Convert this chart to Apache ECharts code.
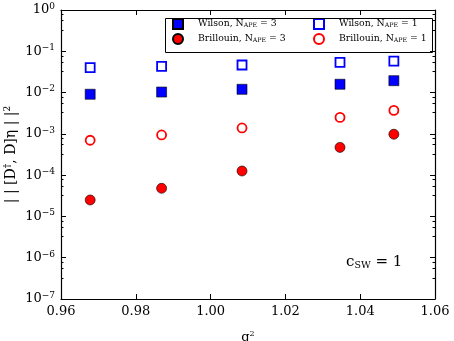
<!DOCTYPE html>
<html>
<head>
<meta charset="utf-8">
<script src="https://cdn.jsdelivr.net/npm/echarts@6/dist/echarts.min.js"></script>
<style>
  html, body { margin: 0; padding: 0; background: #fff; }
  #chart { width: 454px; height: 341px; }
</style>
</head>
<body>
<div id="chart"></div>
<script>
// g0^2 values (same for every series)
var g0sq = [0.9678, 0.9869, 1.0084, 1.0346, 1.049];
// ||[D+, D] eta||^2
var wilson3 = [0.0091, 0.0103, 0.0120, 0.0159, 0.0194];
var wilson1 = [0.040, 0.043, 0.0466, 0.054, 0.058];
var brill3 = [2.5e-5, 4.8e-5, 1.26e-4, 4.7e-4, 9.8e-4];
var brill1 = [7.0e-4, 9.4e-4, 1.39e-3, 2.5e-3, 3.7e-3];

var xTicks = [0.96, 0.98, 1.00, 1.02, 1.04, 1.06];

var FONT = 'DejaVu Serif';

function pairs(ys) {
  var out = [];
  for (var i = 0; i < ys.length; i++) out.push([g0sq[i], ys[i]]);
  return out;
}

var names = {
  w3: 'Wilson, N_APE = 3',
  w1: 'Wilson, N_APE = 1',
  b3: 'Brillouin, N_APE = 3',
  b1: 'Brillouin, N_APE = 1'
};

function legendText(name) {
  var parts = name.split('N_APE');
  return '{f|' + parts[0] + 'N}{s|APE}{t|' + parts[1] + '}';
}

var legendStyle = {
  fontFamily: FONT,
  color: '#000',
  lineHeight: 12,
  rich: {
    f: { fontFamily: FONT, fontSize: 9.3, color: '#000', lineHeight: 12, padding: [0, 0, 0, 10] },
    t: { fontFamily: FONT, fontSize: 9.3, color: '#000', lineHeight: 12 },
    s: { fontFamily: FONT, fontSize: 6.3, color: '#000', lineHeight: 12, padding: [3, 0, 0, 0] }
  }
};

var axisLineStyle = { color: '#000', width: 1.2 };

var chart = echarts.init(document.getElementById('chart'));
var option = {
  backgroundColor: '#fff',
  animation: false,
  grid: { left: 61, right: 19, top: 10, bottom: 42, outerBoundsMode: 'none', containLabel: false },
  legend: [
    {
      orient: 'vertical', left: 172, top: 18, padding: 0, itemGap: 3,
      itemWidth: 10, itemHeight: 10,
      data: [names.w3, names.b3],
      formatter: legendText, textStyle: legendStyle
    },
    {
      orient: 'vertical', left: 313, top: 18, padding: 0, itemGap: 3,
      itemWidth: 10, itemHeight: 10,
      data: [names.w1, names.b1],
      formatter: legendText, textStyle: legendStyle
    }
  ],
  graphic: [
    {
      type: 'rect', left: 163, top: 16, z: 10,
      shape: { width: 267, height: 34 },
      style: { fill: 'none', stroke: '#000', lineWidth: 1 }
    },
    {
      type: 'text', left: 346, top: 255, z: 10,
      style: {
        text: '{c|c}{s|SW}{c| = 1}',
        rich: {
          c: { fontFamily: FONT, fontSize: 15, fill: '#000' },
          s: { fontFamily: FONT, fontSize: 9.5, fill: '#000', padding: [6, 0, 0, 0] }
        }
      }
    }
  ],
  xAxis: [
    {
      type: 'value', min: 0.96, max: 1.06, interval: 0.02,
      position: 'bottom',
      axisLine: { lineStyle: axisLineStyle },
      axisTick: { inside: true, length: 5, lineStyle: { color: '#000' } },
      splitLine: { show: false },
      axisLabel: {
        margin: 6, fontFamily: FONT, fontSize: 13, color: '#000',
        formatter: function (v) { return v.toFixed(2); }
      },
      name: '{g|g}{p|2}', nameLocation: 'middle', nameGap: 28, nameMoveOverlap: false,
      nameTextStyle: {
        rich: {
          g: { fontFamily: FONT, fontSize: 13, color: '#000', padding: [4, 0, 0, 0] },
          p: { fontFamily: FONT, fontSize: 8, color: '#000', padding: [0, 0, 4, 0] }
        }
      }
    },
    {
      type: 'value', min: 0.96, max: 1.06, interval: 0.02,
      position: 'top',
      axisLine: { lineStyle: axisLineStyle },
      axisTick: { inside: true, length: 5, lineStyle: { color: '#000' } },
      splitLine: { show: false },
      axisLabel: { show: false }
    }
  ],
  yAxis: [
    {
      type: 'log', logBase: 10, min: 1e-7, max: 1, splitNumber: 7,
      position: 'left',
      axisLine: { lineStyle: axisLineStyle },
      axisTick: { inside: true, length: 5, lineStyle: { color: '#000' } },
      minorTick: { show: true, splitNumber: 4, length: 2.5, lineStyle: { color: '#000' } },
      splitLine: { show: false },
      axisLabel: {
        margin: 6, color: '#000',
        formatter: function (v) {
          var e = Math.round(Math.log10(v));
          return '{b|10}{p|' + (e === 0 ? '0' : '\u2212' + (-e)) + '}';
        },
        rich: {
          b: { fontFamily: FONT, fontSize: 13, color: '#000' },
          p: { fontFamily: FONT, fontSize: 9, color: '#000', padding: [0, 0, 7, 0] }
        }
      },
      name: '| | [D{p|\u2020}, D]\u03b7 | |{p|2}',
      nameLocation: 'middle', nameRotate: 90, nameGap: 42, nameMoveOverlap: false,
      nameTextStyle: {
        fontFamily: FONT, fontSize: 14, color: '#000',
        rich: {
          p: { fontFamily: FONT, fontSize: 9, color: '#000', padding: [0, 0, 7, 0] }
        }
      }
    },
    {
      type: 'log', logBase: 10, min: 1e-7, max: 1, splitNumber: 7,
      position: 'right',
      axisLine: { lineStyle: axisLineStyle },
      axisTick: { inside: true, length: 5, lineStyle: { color: '#000' } },
      minorTick: { show: true, splitNumber: 4, length: 2.5, lineStyle: { color: '#000' } },
      splitLine: { show: false },
      axisLabel: { show: false }
    }
  ],
  series: [
    {
      name: names.w3, type: 'scatter', data: pairs(wilson3),
      symbol: 'rect', symbolSize: 10,
      itemStyle: { color: '#0000ff', borderColor: '#000', borderWidth: 0.6, opacity: 1 }
    },
    {
      name: names.w1, type: 'scatter', data: pairs(wilson1),
      symbol: 'rect', symbolSize: 9,
      itemStyle: { color: '#fff', borderColor: '#0000ff', borderWidth: 1.8, opacity: 1 }
    },
    {
      name: names.b3, type: 'scatter', data: pairs(brill3),
      symbol: 'circle', symbolSize: 10,
      itemStyle: { color: '#ff0000', borderColor: '#000', borderWidth: 0.6, opacity: 1 }
    },
    {
      name: names.b1, type: 'scatter', data: pairs(brill1),
      symbol: 'circle', symbolSize: 9,
      itemStyle: { color: '#fff', borderColor: '#ff0000', borderWidth: 1.8, opacity: 1 }
    }
  ]
};
chart.setOption(option);
</script>
</body>
</html>
